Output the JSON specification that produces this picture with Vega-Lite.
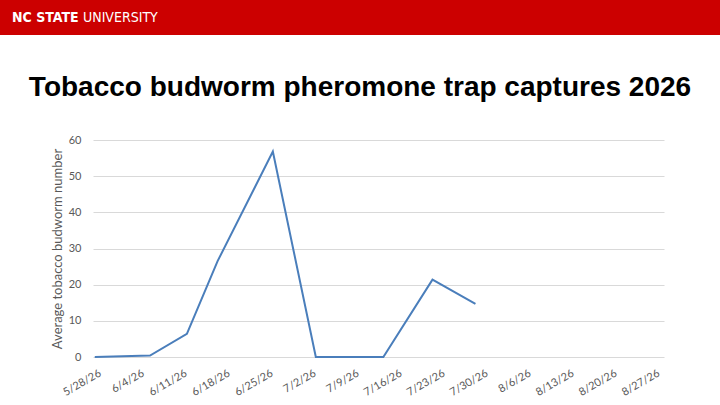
{
  "$schema": "https://vega.github.io/schema/vega-lite/v6.json",
  "description": "Tobacco budworm pheromone trap captures 2026",
  "background": "white",
  "padding": 0,
  "spacing": 32,
  "datasets": {
    "banner": [{"bold": "NC STATE", "light": "UNIVERSITY"}],
    "empty": [],
    "captures": [
      {"date": "2026-05-27", "count": 0},
      {"date": "2026-06-05", "count": 0.4},
      {"date": "2026-06-11", "count": 6.4},
      {"date": "2026-06-16", "count": 26.5},
      {"date": "2026-06-25", "count": 56.8},
      {"date": "2026-07-02", "count": 0},
      {"date": "2026-07-13", "count": 0},
      {"date": "2026-07-21", "count": 21.4},
      {"date": "2026-07-28", "count": 14.7}
    ]
  },
  "vconcat": [
    {
      "width": 720,
      "height": 35,
      "view": {"fill": "#cc0000", "stroke": null},
      "data": {"name": "banner"},
      "title": {
        "text": "Tobacco budworm pheromone trap captures 2026",
        "orient": "bottom",
        "anchor": "middle",
        "baseline": "top",
        "offset": 39,
        "font": "Liberation Sans",
        "fontSize": 28,
        "fontWeight": "bold",
        "color": "black"
      },
      "layer": [
        {
          "mark": {
            "type": "text",
            "align": "left",
            "baseline": "middle",
            "dx": -348,
            "font": "DejaVu Sans Condensed",
            "fontSize": 14,
            "fontWeight": "bold",
            "color": "white"
          },
          "encoding": {"text": {"field": "bold"}}
        },
        {
          "mark": {
            "type": "text",
            "align": "left",
            "baseline": "middle",
            "dx": -277,
            "font": "DejaVu Sans Condensed",
            "fontSize": 14,
            "color": "white"
          },
          "encoding": {"text": {"field": "light"}}
        }
      ]
    },
    {
      "spacing": 0,
      "hconcat": [
        {
          "width": 51,
          "height": 217,
          "data": {"name": "empty"},
          "mark": "text",
          "encoding": {}
        },
        {
          "width": 571,
          "height": 217,
          "data": {"name": "captures"},
          "mark": {"type": "line", "color": "#4a7ebb", "strokeWidth": 2},
          "encoding": {
            "x": {
              "field": "date",
              "type": "temporal",
              "scale": {
                "type": "utc",
                "domain": [
                  {"year": 2026, "month": 5, "date": 26, "hours": 17, "utc": true},
                  {"year": 2026, "month": 8, "date": 27, "hours": 17, "utc": true}
                ]
              },
              "axis": {
                "title": null,
                "values": [
                  {"year": 2026, "month": 5, "date": 28, "utc": true},
                  {"year": 2026, "month": 6, "date": 4, "utc": true},
                  {"year": 2026, "month": 6, "date": 11, "utc": true},
                  {"year": 2026, "month": 6, "date": 18, "utc": true},
                  {"year": 2026, "month": 6, "date": 25, "utc": true},
                  {"year": 2026, "month": 7, "date": 2, "utc": true},
                  {"year": 2026, "month": 7, "date": 9, "utc": true},
                  {"year": 2026, "month": 7, "date": 16, "utc": true},
                  {"year": 2026, "month": 7, "date": 23, "utc": true},
                  {"year": 2026, "month": 7, "date": 30, "utc": true},
                  {"year": 2026, "month": 8, "date": 6, "utc": true},
                  {"year": 2026, "month": 8, "date": 13, "utc": true},
                  {"year": 2026, "month": 8, "date": 20, "utc": true},
                  {"year": 2026, "month": 8, "date": 27, "utc": true}
                ],
                "labelExpr": "utcFormat(datum.value, '%-m/%-d/%y')",
                "labelAngle": -30,
                "labelAlign": "right",
                "labelBaseline": "top",
                "labelPadding": 10,
                "labelOffset": -4,
                "labelOverlap": false,
                "labelFlush": false,
                "grid": false,
                "domain": false,
                "ticks": false,
                "tickSize": 0
              }
            },
            "y": {
              "field": "count",
              "type": "quantitative",
              "scale": {"domain": [0, 60], "nice": false},
              "axis": {
                "title": "Average tobacco budworm number",
                "values": [0, 10, 20, 30, 40, 50, 60],
                "labelPadding": 12,
                "titlePadding": 4,
                "domain": false,
                "ticks": false,
                "tickSize": 0,
                "grid": true
              }
            }
          }
        }
      ]
    }
  ],
  "config": {
    "view": {"stroke": null},
    "axis": {
      "labelFont": "Lato",
      "labelFontSize": 11,
      "labelColor": "#595959",
      "titleFont": "Lato",
      "titleFontSize": 13,
      "titleFontWeight": "normal",
      "titleColor": "#595959",
      "gridColor": "#d9d9d9",
      "gridWidth": 1
    }
  }
}
